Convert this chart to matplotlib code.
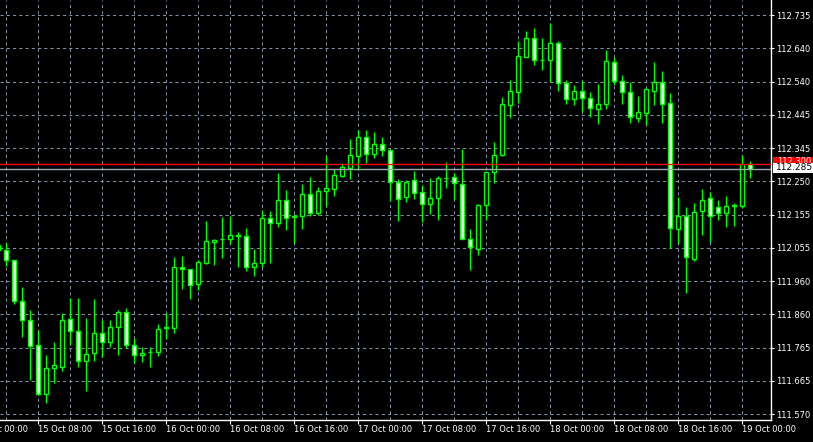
import matplotlib
matplotlib.use('Agg')
import matplotlib.pyplot as plt
import matplotlib.transforms as mtransforms
from matplotlib.patches import Rectangle
import numpy as np

# hourly USDJPY-style bars, 15 Oct 03:00 .. 19 Oct 01:00
opens = [112.064, 112.049, 112.020, 111.900, 111.845, 111.772, 111.629, 111.704, 111.707, 111.848,
         111.813, 111.725, 111.748, 111.807, 111.780, 111.824, 111.868, 111.772, 111.742, 111.751,
         111.751, 111.821, 111.821, 111.999, 111.994, 111.950, 112.011, 112.072, 112.081, 112.081,
         112.093, 112.090, 111.999, 112.011, 112.142, 112.128, 112.195, 112.145, 112.148, 112.213,
         112.157, 112.221, 112.227, 112.265, 112.288, 112.323, 112.379, 112.329, 112.359, 112.341,
         112.248, 112.204, 112.253, 112.218, 112.183, 112.201, 112.259, 112.262, 112.242, 112.081,
         112.052, 112.180, 112.277, 112.326, 112.472, 112.510, 112.613, 112.668, 112.604, 112.604,
         112.653, 112.537, 112.490, 112.513, 112.493, 112.461, 112.475, 112.598, 112.542, 112.510,
         112.434, 112.449, 112.513, 112.540, 112.478, 112.110, 112.148, 112.023, 112.163, 112.201,
         112.175, 112.157, 112.177, 112.177, 112.300]
highs = [112.099, 112.069, 112.020, 111.941, 111.874, 111.815, 111.742, 111.780, 111.865, 111.909,
         111.909, 111.850, 111.906, 111.845, 111.845, 111.874, 111.880, 111.792, 111.766, 111.766,
         111.833, 111.865, 112.029, 112.032, 111.994, 112.020, 112.134, 112.081, 112.145, 112.148,
         112.102, 112.113, 112.052, 112.166, 112.163, 112.274, 112.224, 112.154, 112.242, 112.262,
         112.233, 112.323, 112.285, 112.303, 112.373, 112.399, 112.399, 112.394, 112.379, 112.341,
         112.256, 112.253, 112.280, 112.239, 112.259, 112.265, 112.306, 112.274, 112.344, 112.110,
         112.183, 112.277, 112.364, 112.496, 112.545, 112.659, 112.688, 112.697, 112.668, 112.712,
         112.659, 112.545, 112.531, 112.542, 112.510, 112.534, 112.633, 112.613, 112.560, 112.540,
         112.499, 112.522, 112.598, 112.572, 112.507, 112.204, 112.175, 112.186, 112.227, 112.218,
         112.195, 112.207, 112.186, 112.326, 112.309]
lows = [112.043, 112.002, 111.891, 111.795, 111.669, 111.626, 111.602, 111.661, 111.696, 111.772,
        111.707, 111.637, 111.725, 111.737, 111.766, 111.742, 111.763, 111.719, 111.722, 111.707,
        111.740, 111.789, 111.807, 111.935, 111.906, 111.932, 112.008, 112.005, 112.026, 112.067,
        111.999, 111.988, 111.973, 111.999, 112.011, 112.116, 112.107, 112.069, 112.110, 112.148,
        112.151, 112.177, 112.207, 112.262, 112.256, 112.283, 112.303, 112.318, 112.323, 112.192,
        112.134, 112.189, 112.198, 112.131, 112.154, 112.137, 112.230, 112.195, 112.081, 111.991,
        112.034, 112.137, 112.245, 112.323, 112.434, 112.478, 112.613, 112.589, 112.575, 112.540,
        112.513, 112.475, 112.472, 112.452, 112.437, 112.417, 112.461, 112.531, 112.475, 112.420,
        112.423, 112.414, 112.472, 112.420, 112.055, 112.067, 111.923, 112.017, 112.093, 112.072,
        112.137, 112.116, 112.119, 112.172, 112.259]
closes = [112.049, 112.020, 111.900, 111.845, 111.769, 111.629, 111.704, 111.713, 111.845, 111.813,
          111.725, 111.745, 111.807, 111.780, 111.824, 111.868, 111.772, 111.742, 111.748, 111.751,
          111.818, 111.824, 111.999, 111.994, 111.947, 112.014, 112.075, 112.078, 112.082, 112.093,
          112.090, 111.999, 112.011, 112.142, 112.128, 112.195, 112.142, 112.148, 112.213, 112.157,
          112.221, 112.230, 112.268, 112.291, 112.326, 112.379, 112.329, 112.359, 112.341, 112.248,
          112.198, 112.248, 112.215, 112.183, 112.201, 112.259, 112.260, 112.245, 112.081, 112.058,
          112.180, 112.277, 112.326, 112.475, 112.513, 112.615, 112.668, 112.604, 112.605, 112.653,
          112.537, 112.490, 112.513, 112.493, 112.464, 112.475, 112.601, 112.542, 112.510, 112.437,
          112.452, 112.519, 112.540, 112.475, 112.113, 112.148, 112.029, 112.160, 112.195, 112.148,
          112.157, 112.177, 112.180, 112.300, 112.285]

price_ticks = ['111.570', '111.665', '111.765', '111.860', '111.960', '112.055', '112.155',
               '112.250', '112.345', '112.445', '112.540', '112.640', '112.735']
time_labels = ['15 Oct 00:00', '15 Oct 08:00', '15 Oct 16:00', '16 Oct 00:00', '16 Oct 08:00',
               '16 Oct 16:00', '17 Oct 00:00', '17 Oct 08:00', '17 Oct 16:00', '18 Oct 00:00',
               '18 Oct 08:00', '18 Oct 16:00', '19 Oct 00:00']
ask_line = 112.300
bid_line = 112.285

o = np.array(opens); h = np.array(highs); l = np.array(lows); c = np.array(closes)
idx = np.arange(len(o))

W, H = 813, 442
fig = plt.figure(figsize=(W/100, H/100), dpi=100, facecolor='black')
ax = fig.add_axes([0, 22/H, 771/W, 420/H], facecolor='black')

ymin, ymax = 111.5526, 112.779
ax.set_ylim(ymin, ymax)
ax.set_xlim(0.25, 96.625)

grid_c = '#8090a4'
yt = np.linspace(111.570, 112.735, 13)
for v in yt:
    ax.axhline(v, color=grid_c, lw=0.75, ls=(0, (3, 3)), zorder=0)
for i in range(1, 97, 4):
    ax.axvline(i, color=grid_c, lw=0.75, ls=(0, (3, 3)), zorder=0)

# candles: wick first, body over it (white = down bar, black = up bar)
ax.vlines(idx, l, h, color='#00ff00', lw=1, zorder=2)
bull = c >= o
ax.bar(idx, np.abs(c - o), bottom=np.minimum(o, c), width=0.6,
       color=np.where(bull, 'black', 'white'), edgecolor='#00ff00', lw=1, zorder=3)

ax.axhline(ask_line, color='#ff0000', lw=1, zorder=4)
ax.axhline(bid_line, color='#a0a8b0', lw=1, zorder=4)

for s in ['left', 'top']:
    ax.spines[s].set_visible(False)
for s in ['right', 'bottom']:
    ax.spines[s].set_color('white')
    ax.spines[s].set_linewidth(1)

ax.yaxis.tick_right()
ax.set_yticks(yt)
ax.set_yticklabels(price_ticks)
ax.tick_params(axis='y', colors='white', length=2, pad=2, labelsize=6)
ax.set_xticks(np.arange(5, 97, 8))
ax.set_xticklabels([])
ax.tick_params(axis='x', colors='white', length=3, pad=1)

trans = mtransforms.blended_transform_factory(ax.transData, ax.transAxes)
for k, lab in enumerate(time_labels):
    ax.text(-3 + 8*k, -0.012, lab, transform=trans, color='white', fontsize=6,
            ha='left', va='top', clip_on=False)

# price tags on the right scale
tr2 = mtransforms.blended_transform_factory(ax.transAxes, ax.transData)
ax.add_patch(Rectangle((1.002, 112.291), 0.06, 0.029, transform=tr2, fc='#ff0000',
                       ec='none', clip_on=False, zorder=5))
ax.text(1.008, 112.307, '112.300', transform=tr2, color='white', fontsize=6, va='center',
        ha='left', clip_on=False, zorder=6)
ax.add_patch(Rectangle((1.002, 112.274), 0.06, 0.029, transform=tr2, fc='white',
                       ec='none', clip_on=False, zorder=7))
ax.text(1.006, 112.2885, '112.285', transform=tr2, color='black', fontsize=6.5, va='center',
        ha='left', clip_on=False, zorder=8)

fig.savefig('out.png', dpi=100, facecolor='black')
